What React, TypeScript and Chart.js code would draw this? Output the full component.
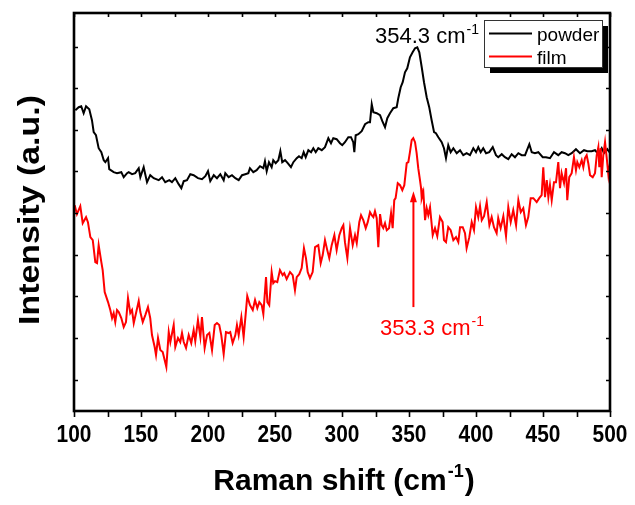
import React, { useEffect, useRef } from "react";
import { Chart, registerables } from "chart.js";

Chart.register(...registerables);

// ---------- data ----------
const powderShift = [101,103.5,105.4,107.2,109,111.4,113.4,114.7,116.4,118.4,
120.4,122.2,123.4,125.4,126.3,129.6,132.1,135.3,137.1,139.6,
140.8,143.3,145.7,148.3,149.5,152,154.5,156.9,159.5,163.2,
165.7,168.1,171.1,173.1,175.6,178.1,180.1,181.9,184.3,186.8,
189.3,192.5,195.5,198,200,201.7,204.3,206.7,209.2,211.7,
212.9,215.4,217.9,220.4,222.9,225.4,227.8,230.1,231.3,233.8,
236.3,238.8,241.3,242.5,243.8,245.5,247.5,248.7,250.5,252.5,
254,255.4,257.5,259.5,261.9,263.7,266.2,267.9,269.9,271.4,
272.9,274.9,276.9,278.6,280.4,282.3,284.9,287.3,289.8,291.8,
293.5,296,298.5,300.2,302.2,304.7,306.7,308.4,309.2,310.2,
312.2,314.7,317.2,319.6,320.9,322.2,323.4,325.9,328.4,330.1,
332.1,333.8,335.8,338.3,340.8,342,343.8,345.3,347,348.7,
350.7,352.7,354.5,356.2,357.7,359.5,361.2,363.2,365.1,366.9,
368.7,370.1,371.9,374.4,376.1,377.6,379.3,381.1,383.1,385.6,
388.1,390.5,393,395.5,398,400,401.7,403.5,405.4,407.5,
409.9,412.5,414.9,416.6,419.2,421.6,424.1,426.6,429.1,431.6,
434.1,436.6,439.8,441.6,444,446.5,449.8,452.2,455.2,458.2,
461.4,463.9,466.4,468.9,471.4,474.6,477.6,480.6,483.1,486.3,
488.8,491.3,493.8,495.5,498,499.5];

const powderIntensity = [310,313,314,307,314,311,300,288,285,272,
268,260,258,262,251,248,247,248,243,247,
248,246,247,252,243,253,238,245,242,240,
243,238,240,238,242,236,232,239,240,246,
245,242,241,244,249,239,245,242,246,240,
247,243,245,242,240,245,246,247,252,248,
250,254,252,259,249,258,253,260,257,260,
269,258,260,257,253,258,262,264,262,268,
263,270,268,272,268,272,270,273,282,277,
282,281,277,275,278,283,283,278,268,285,
286,289,296,298,298,316,308,307,305,299,
293,302,307,312,313,322,333,338,348,352,
363,368,372,373,368,353,338,323,313,300,
288,287,283,278,272,262,275,268,272,267,
270,265,267,265,272,268,273,268,272,267,
268,273,265,263,266,263,261,266,263,267,
265,265,276,268,267,268,263,263,262,268,
265,268,267,265,267,271,267,270,269,269,
270,266,272,267,271,268];

const filmShift = [100.5,102.2,104.7,106.5,109,110.4,112.2,114,115.9,117.2,
118.4,120.4,121.4,122.9,125.4,127.1,128.4,129.6,130.8,132.1,
133.4,135.3,137.1,138.8,140.3,142,143.3,144.6,146.3,148.3,
149.5,151.3,153.2,155.2,156.9,158.2,160.2,161.2,162.7,164.4,
166.2,168.9,170.7,171.9,174.4,175.6,177.6,179.3,180.6,181.9,
183.6,185.6,187.5,189.3,190.5,192.5,194.3,195.5,197.5,199.3,
201,203,205,206.7,208.4,209.9,211.7,213.4,215.4,216.6,
218.4,220.4,221.6,222.9,224.9,226.6,229.3,231.3,233.4,235.1,
236.8,238.3,240.1,241.3,243.3,244.3,245.7,247.5,248.7,250,
251.7,253.7,255.7,256.9,258.7,261.2,263.2,264.9,266.2,268.1,
269.9,271.6,273.1,274.4,276.1,278.1,279.9,282.3,284.1,285.6,
287.3,289,290.5,292.3,294.3,296,298,299.8,301,302.2,
304,306,308,309.7,311,312.9,314.2,315.9,317.7,319.2,
320.9,322.2,323.4,324.6,325.9,327.1,328.4,329.6,330.8,332.1,
333.4,335.1,336.6,337.8,339,340,341.6,343.3,345,346.5,
348.3,349.5,350.7,352,353.2,354.5,355.7,356.9,358.2,359,
359.5,360.7,362,363.2,364.4,365.7,367.7,369.4,371.1,373.1,
375.1,376.1,377.6,379.3,381.1,383.1,385.1,386.8,388.1,390.1,
391.8,393,395,396.8,398.5,400,401.7,403,404.3,406,
408,410,411.7,413.4,415.4,416.6,418.4,420.4,422.4,424.1,
425.9,427.8,429.9,431.6,433.4,435.3,437.3,439,440.8,442.8,
445.3,447.2,449,450.2,451.5,452.8,454,455.2,456.5,458.2,
459.7,461.4,462.7,463.9,465.7,467.2,468.1,469.6,471.4,473.1,
474.6,475.6,477.1,478.9,480.1,481.3,482.6,483.8,485.1,487.1,
488.8,490.1,491.3,492,493.1,493.8,495,496.3,497.5,498.8,
500];

const filmIntensity = [215,206,214,197,203,198,183,180,158,157,
175,158,150,128,118,110,102,107,98,110,
108,102,93,98,122,107,110,97,107,119,
108,98,105,113,102,85,73,65,82,70,
68,53,88,78,95,73,82,78,87,78,
72,85,77,90,79,100,83,103,72,85,
87,70,95,97,95,85,66,88,87,88,
77,85,95,85,103,83,124,115,110,120,
112,118,115,106,143,118,115,148,137,139,
138,150,145,147,141,148,145,130,143,146,
152,172,162,148,142,148,173,175,157,165,
180,170,162,175,185,170,185,192,195,178,
162,192,175,185,177,198,205,200,192,198,
208,205,203,209,202,173,206,195,192,197,
190,192,207,192,220,222,237,235,230,235,
257,258,268,280,282,278,267,252,240,232,
222,228,200,212,205,213,185,192,184,203,
198,180,178,193,190,180,183,178,193,193,
187,172,183,198,190,213,203,214,200,204,
218,195,203,193,187,202,192,204,184,213,
198,210,195,220,208,212,195,203,222,222,
218,222,225,253,223,240,223,235,220,238,
238,258,232,247,237,252,220,243,247,263,
250,258,253,260,253,262,265,257,245,243,
247,265,273,253,272,243,265,278,263,245,
257];

const xTickLabels = [100, 150, 200, 250, 300, 350, 400, 450, 500];
const xMinorStep = 25;
const yTicks = [40.4, 82.1, 123.7, 165.4, 207.1, 248.7, 290.4, 332.1, 373.7];
const xRange = [100, 500];
const yRange = [9, 407.3];

const seriesNames = ["powder", "film"];
const seriesColors = ["#000000", "#ff0000"];

const powderPeakLabel = "354.3";
const filmPeakLabel = "353.3";
const arrowShift = 353.3;
const arrowFrom = 113;
const arrowTo = 229;

const FONT = '"Liberation Sans", Arial, sans-serif';

function toPoints(xs: number[], ys: number[]) {
  const n = Math.min(xs.length, ys.length);
  const out: { x: number; y: number }[] = [];
  for (let i = 0; i < n; i++) out.push({ x: xs[i], y: ys[i] });
  return out;
}

function scaledText(ctx: CanvasRenderingContext2D, text: string, x: number, y: number, font: string, sx: number, align: CanvasTextAlign) {
  ctx.save();
  ctx.font = font;
  ctx.textAlign = align;
  ctx.textBaseline = "alphabetic";
  ctx.translate(x, y);
  ctx.scale(sx, 1);
  ctx.fillText(text, 0, 0);
  ctx.restore();
}

function supText(ctx: CanvasRenderingContext2D, main: string, sup: string, tail: string, x: number, y: number, font: string, supFont: string, supRise: number, color: string) {
  ctx.save();
  ctx.fillStyle = color;
  ctx.textAlign = "left";
  ctx.textBaseline = "alphabetic";
  ctx.font = font;
  ctx.fillText(main, x, y);
  let cx = x + ctx.measureText(main).width;
  ctx.font = supFont;
  ctx.fillText(sup, cx + 1, y - supRise);
  cx += ctx.measureText(sup).width + 2;
  if (tail) {
    ctx.font = font;
    ctx.fillText(tail, cx, y);
  }
  ctx.restore();
}

const decorPlugin = {
  id: "decor",
  afterDraw(chart: any) {
    const ctx: CanvasRenderingContext2D = chart.ctx;
    const a = chart.chartArea;
    const xs = chart.scales.x;
    const ys = chart.scales.y;
    ctx.save();

    // frame
    ctx.strokeStyle = "#000";
    ctx.lineWidth = 2.6;
    ctx.strokeRect(a.left, a.top, a.right - a.left, a.bottom - a.top);

    // x ticks
    ctx.lineWidth = 1.6;
    ctx.beginPath();
    for (let v = xRange[0]; v <= xRange[1]; v += xMinorStep) {
      const px = Math.round(xs.getPixelForValue(v)) + 0.5;
      ctx.moveTo(px, a.bottom);
      ctx.lineTo(px, a.bottom + 6);
      ctx.moveTo(px, a.top);
      ctx.lineTo(px, a.top + 4);
    }
    // y ticks
    for (const v of yTicks) {
      const py = Math.round(ys.getPixelForValue(v)) + 0.5;
      ctx.moveTo(a.left, py);
      ctx.lineTo(a.left + 4, py);
      ctx.moveTo(a.right, py);
      ctx.lineTo(a.right - 4, py);
    }
    ctx.stroke();

    // x tick labels
    ctx.fillStyle = "#000";
    for (const v of xTickLabels) {
      scaledText(ctx, String(v), xs.getPixelForValue(v), a.bottom + 31, "bold 24px " + FONT, 0.87, "center");
    }

    // x title
    {
      const font = "bold 30px " + FONT;
      const supFont = "bold 18px " + FONT;
      ctx.font = font;
      const w1 = ctx.measureText("Raman shift (cm").width;
      const w3 = ctx.measureText(")").width;
      ctx.font = supFont;
      const w2 = ctx.measureText("-1").width + 2;
      const total = w1 + w2 + w3;
      const cx = (a.left + a.right) / 2 + 2;
      supText(ctx, "Raman shift (cm", "-1", ")", cx - total / 2, 490, font, supFont, 13, "#000");
    }

    // y title
    {
      ctx.save();
      ctx.fillStyle = "#000";
      ctx.font = "bold 30px " + FONT;
      const t = "Intensity (a.u.)";
      const w = ctx.measureText(t).width;
      ctx.translate(39, 210);
      ctx.rotate(-Math.PI / 2);
      ctx.scale(230 / w, 1);
      ctx.textAlign = "center";
      ctx.textBaseline = "alphabetic";
      ctx.fillText(t, 0, 0);
      ctx.restore();
    }

    // powder peak label
    supText(ctx, powderPeakLabel + " cm", "-1", "", 375, 43, "22px " + FONT, "14px " + FONT, 9, "#000");

    // film arrow + label
    {
      const ax = xs.getPixelForValue(arrowShift);
      const yb = ys.getPixelForValue(arrowFrom);
      const yt = ys.getPixelForValue(arrowTo);
      ctx.strokeStyle = "#ff0000";
      ctx.fillStyle = "#ff0000";
      ctx.lineWidth = 2;
      ctx.beginPath();
      ctx.moveTo(ax, yb);
      ctx.lineTo(ax, yt + 8);
      ctx.stroke();
      ctx.beginPath();
      ctx.moveTo(ax, yt);
      ctx.lineTo(ax - 3.5, yt + 11);
      ctx.lineTo(ax + 3.5, yt + 11);
      ctx.closePath();
      ctx.fill();
      supText(ctx, filmPeakLabel + " cm", "-1", "", 380, 335, "22px " + FONT, "14px " + FONT, 9, "#ff0000");
    }

    // legend
    {
      const bx = 484, by = 20, bw = 118, bh = 47;
      ctx.fillStyle = "#000";
      ctx.fillRect(bx + 6, by + 6, bw, bh);
      ctx.fillStyle = "#fff";
      ctx.fillRect(bx, by, bw, bh);
      ctx.strokeStyle = "#333";
      ctx.lineWidth = 1;
      ctx.strokeRect(bx + 0.5, by + 0.5, bw, bh);
      const rows = [33.5, 56.5];
      for (let i = 0; i < seriesNames.length; i++) {
        ctx.strokeStyle = seriesColors[i];
        ctx.lineWidth = 2;
        ctx.beginPath();
        ctx.moveTo(489, rows[i]);
        ctx.lineTo(532, rows[i]);
        ctx.stroke();
        ctx.fillStyle = "#000";
        ctx.font = "19px " + FONT;
        ctx.textAlign = "left";
        ctx.textBaseline = "alphabetic";
        ctx.fillText(seriesNames[i], 537, rows[i] + 7);
      }
    }
    ctx.restore();
  },
};

export default function App() {
  const ref = useRef<HTMLCanvasElement | null>(null);
  useEffect(() => {
    if (!ref.current) return;
    const chart = new Chart(ref.current, {
      type: "line",
      data: {
        datasets: [
          {
            label: seriesNames[0],
            data: toPoints(powderShift, powderIntensity),
            borderColor: seriesColors[0],
            borderWidth: 2,
            pointRadius: 0,
            tension: 0,
            fill: false,
            order: 1,
          },
          {
            label: seriesNames[1],
            data: toPoints(filmShift, filmIntensity),
            borderColor: seriesColors[1],
            borderWidth: 2,
            pointRadius: 0,
            tension: 0,
            fill: false,
            order: 0,
          },
        ],
      },
      options: {
        animation: false,
        responsive: false,
        maintainAspectRatio: false,
        layout: { padding: { top: 13, right: 25, left: 0, bottom: 0 } },
        plugins: { legend: { display: false }, tooltip: { enabled: false } },
        events: [],
        scales: {
          x: {
            type: "linear",
            min: xRange[0],
            max: xRange[1],
            ticks: { display: false },
            grid: { display: false },
            border: { display: false },
            afterFit: (s: any) => { s.height = 94; },
          },
          y: {
            type: "linear",
            min: yRange[0],
            max: yRange[1],
            ticks: { display: false },
            grid: { display: false },
            border: { display: false },
            afterFit: (s: any) => { s.width = 74; },
          },
        },
      },
      plugins: [decorPlugin],
    } as any);
    return () => chart.destroy();
  }, []);
  return (
    <div style={{ position: "fixed", left: 0, top: 0, width: 635, height: 505, background: "#fff" }}>
      <canvas ref={ref} width={635} height={505} style={{ display: "block" }} />
    </div>
  );
}
